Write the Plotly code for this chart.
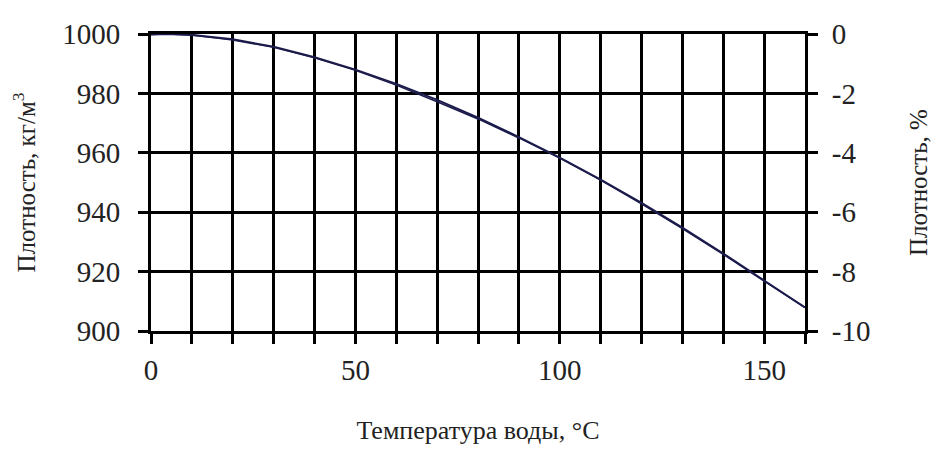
import plotly.graph_objects as go

temperature = [0, 4, 10, 20, 30, 40, 50, 60, 70, 80, 90, 100, 110, 120, 130, 140, 150, 160]
density = [999.8, 1000.0, 999.7, 998.2, 995.7, 992.2, 988.0, 983.2, 977.8, 971.8, 965.3, 958.4, 951.0, 943.1, 934.8, 926.1, 917.0, 907.9]
density_pct = [-0.02, 0.0, -0.03, -0.20, -0.45, -0.80, -1.22, -1.72, -2.28, -2.86, -3.50, -4.18, -4.92, -5.72, -6.55, -7.42, -8.32, -9.21]

x_ticks = [0, 50, 100, 150]
x_grid_step = 10
y_ticks = [900, 920, 940, 960, 980, 1000]
y2_ticks = [-10, -8, -6, -4, -2, 0]
y2_labels = ["-10", "-8", "-6", "-4", "-2", "0"]

font = "Liberation Serif"
line_col = "#1c1c4c"

fig = go.Figure()
fig.add_trace(go.Scatter(x=temperature, y=density, mode="lines",
                         line=dict(color=line_col, width=2), showlegend=False))
fig.add_trace(go.Scatter(x=temperature, y=density_pct, mode="lines", yaxis="y2",
                         line=dict(color=line_col, width=1.5), showlegend=False))

fig.update_layout(
    width=940, height=464,
    margin=dict(l=143, r=143, t=26, b=141),
    paper_bgcolor="white", plot_bgcolor="white",
    font=dict(family=font, color="#222", size=29),
    xaxis=dict(range=[0, 160], tickvals=x_ticks,
               showgrid=True, gridcolor="black", gridwidth=3,
               ticks="outside", ticklen=10, tickwidth=3, tickcolor="black",
               minor=dict(tick0=0, dtick=x_grid_step, showgrid=True, gridcolor="black",
                          gridwidth=3, ticks="outside", ticklen=10, tickwidth=3,
                          tickcolor="black"),
               showline=True, linecolor="black", linewidth=3, mirror=True,
               zeroline=False, ticklabelstandoff=1, automargin=False,
               title=dict(text="Температура воды, °C", font=dict(size=26), standoff=37)),
    yaxis=dict(range=[900, 1000], tickvals=y_ticks,
               showgrid=True, gridcolor="black", gridwidth=3,
               ticks="outside", ticklen=10, tickwidth=3, tickcolor="black",
               showline=True, linecolor="black", linewidth=3,
               zeroline=False, ticklabelstandoff=12, automargin=False,
               title=dict(text="Плотность, кг/м<sup>3</sup>", font=dict(size=25), standoff=36)),
    yaxis2=dict(range=[-10, 0], tickvals=y2_ticks, ticktext=y2_labels,
                overlaying="y", side="right",
                showgrid=False, ticks="outside", ticklen=10, tickwidth=3, tickcolor="black",
                showline=True, linecolor="black", linewidth=3,
                zeroline=False, ticklabelstandoff=8, automargin=False,
                title=dict(text="Плотность, %", font=dict(size=25), standoff=41)),
)

fig.write_html("out.html")
